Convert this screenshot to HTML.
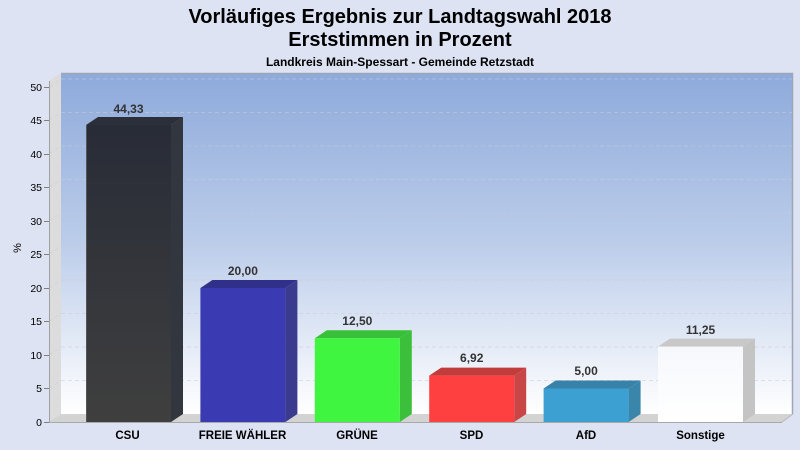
<!DOCTYPE html>
<html><head><meta charset="utf-8"><style>
html,body{margin:0;padding:0;background:#dde3f3;}
svg{display:block;font-family:"Liberation Sans",Arial,sans-serif;}
</style></head><body>
<svg width="800" height="450" viewBox="0 0 800 450" xmlns="http://www.w3.org/2000/svg">
<defs>
<linearGradient id="bg" x1="0" y1="0" x2="0" y2="1">
<stop offset="0" stop-color="#8eaadb"/>
<stop offset="0.5" stop-color="#bccdea"/>
<stop offset="1" stop-color="#ffffff"/>
</linearGradient>
<linearGradient id="csu" x1="0" y1="0" x2="0" y2="1">
<stop offset="0" stop-color="#282c37"/>
<stop offset="1" stop-color="#3f3f3f"/>
</linearGradient>
<linearGradient id="son" x1="0" y1="0" x2="0" y2="1">
<stop offset="0" stop-color="#f6f8fc"/>
<stop offset="1" stop-color="#ffffff"/>
</linearGradient>
</defs>
<rect width="800" height="450" fill="#dde3f3"/>
<text x="400" y="23" text-anchor="middle" font-size="20" font-weight="bold" fill="#000">Vorläufiges Ergebnis zur Landtagswahl 2018</text>
<text x="400" y="46" text-anchor="middle" font-size="20" font-weight="bold" fill="#000">Erststimmen in Prozent</text>
<text x="400" y="66" text-anchor="middle" font-size="12" font-weight="bold" fill="#000">Landkreis Main-Spessart - Gemeinde Retzstadt</text>

<!-- back wall -->
<rect x="61" y="73" width="731" height="341" fill="url(#bg)"/>
<polyline points="61,73.5 792.5,73.5 792.5,414" fill="none" stroke="#9ea6b6" stroke-width="1.5"/>
<!-- left wall -->
<polygon points="49,81 61,73 61,414 49,422" fill="#dcdcdc"/>
<!-- floor -->
<polygon points="49,422 61,414 793,414 782,422" fill="#d3d3d3"/>
<line x1="49" y1="422.5" x2="782" y2="422.5" stroke="#a8a8a8" stroke-width="1"/>
<line x1="782" y1="422" x2="793" y2="414" stroke="#b8b8b8" stroke-width="1"/>

<!-- grid lines -->
<g stroke="rgba(200,204,214,0.55)" stroke-width="1" stroke-dasharray="4,3" fill="none">
<line x1="61" y1="380.5" x2="792" y2="380.5"/>
<line x1="61" y1="347" x2="792" y2="347"/>
<line x1="61" y1="313.5" x2="792" y2="313.5"/>
<line x1="61" y1="280" x2="792" y2="280"/>
<line x1="61" y1="246.5" x2="792" y2="246.5"/>
<line x1="61" y1="213" x2="792" y2="213"/>
<line x1="61" y1="179.5" x2="792" y2="179.5"/>
<line x1="61" y1="146" x2="792" y2="146"/>
<line x1="61" y1="112.5" x2="792" y2="112.5"/>
<line x1="61" y1="79" x2="792" y2="79"/>
<line x1="49" y1="388.5" x2="61" y2="380.5"/>
<line x1="49" y1="355" x2="61" y2="347"/>
<line x1="49" y1="321.5" x2="61" y2="313.5"/>
<line x1="49" y1="288" x2="61" y2="280"/>
<line x1="49" y1="254.5" x2="61" y2="246.5"/>
<line x1="49" y1="221" x2="61" y2="213"/>
<line x1="49" y1="187.5" x2="61" y2="179.5"/>
<line x1="49" y1="154" x2="61" y2="146"/>
<line x1="49" y1="120.5" x2="61" y2="112.5"/>
<line x1="49" y1="87" x2="61" y2="79"/>
</g>

<!-- y axis -->
<line x1="49.5" y1="81" x2="49.5" y2="422" stroke="#a0a0a0" stroke-width="1"/>
<g stroke="#808080" stroke-width="1">
<line x1="44" y1="422.5" x2="49" y2="422.5"/>
<line x1="44" y1="388.5" x2="49" y2="388.5"/>
<line x1="44" y1="355.5" x2="49" y2="355.5"/>
<line x1="44" y1="321.5" x2="49" y2="321.5"/>
<line x1="44" y1="288.5" x2="49" y2="288.5"/>
<line x1="44" y1="254.5" x2="49" y2="254.5"/>
<line x1="44" y1="221.5" x2="49" y2="221.5"/>
<line x1="44" y1="187.5" x2="49" y2="187.5"/>
<line x1="44" y1="154.5" x2="49" y2="154.5"/>
<line x1="44" y1="120.5" x2="49" y2="120.5"/>
<line x1="44" y1="87.5" x2="49" y2="87.5"/>
</g>
<g font-size="10.5" fill="#000" text-anchor="end">
<text x="42" y="426">0</text>
<text x="42" y="392">5</text>
<text x="42" y="359">10</text>
<text x="42" y="325">15</text>
<text x="42" y="292">20</text>
<text x="42" y="258">25</text>
<text x="42" y="225">30</text>
<text x="42" y="191">35</text>
<text x="42" y="158">40</text>
<text x="42" y="124">45</text>
<text x="42" y="91">50</text>
</g>
<text x="0" y="0" font-size="11" fill="#000" text-anchor="middle" transform="translate(21,248) rotate(-90)">%</text>

<!-- bars -->
<polygon points="86,125 98,117 183,117 171,125" fill="#2b2f39"/>
<polygon points="171,125 183,117 183,414 171,422" fill="#32363e"/>
<rect x="86" y="125" width="85" height="297" fill="url(#csu)"/>
<line x1="86.5" y1="125" x2="86.5" y2="422" stroke="#555" stroke-width="1"/>

<polygon points="200.4,288 212.4,280 297.4,280 285.4,288" fill="#30308a"/>
<polygon points="285.4,288 297.4,280 297.4,414 285.4,422" fill="#3a3a8e"/>
<rect x="200.4" y="288" width="85" height="134" fill="#3a3ab2"/>

<polygon points="314.8,338.25 326.8,330.25 411.8,330.25 399.8,338.25" fill="#38c038"/>
<polygon points="399.8,338.25 411.8,330.25 411.8,414 399.8,422" fill="#3cc03c"/>
<rect x="314.8" y="338.25" width="85" height="83.75" fill="#40f540"/>

<polygon points="429.2,375.6 441.2,367.6 526.2,367.6 514.2,375.6" fill="#c23c3c"/>
<polygon points="514.2,375.6 526.2,367.6 526.2,414 514.2,422" fill="#c84646"/>
<rect x="429.2" y="375.6" width="85" height="46.4" fill="#ff4040"/>

<polygon points="543.6,388.5 555.6,380.5 640.6,380.5 628.6,388.5" fill="#3882aa"/>
<polygon points="628.6,388.5 640.6,380.5 640.6,414 628.6,422" fill="#3a86aa"/>
<rect x="543.6" y="388.5" width="85" height="33.5" fill="#3ca0d2"/>

<polygon points="658,346.6 670,338.6 755,338.6 743,346.6" fill="#c8c8c8"/>
<polygon points="743,346.6 755,338.6 755,414 743,422" fill="#c4c4c4"/>
<rect x="658" y="346.6" width="85" height="75.4" fill="url(#son)"/>

<!-- value labels -->
<g font-size="12" font-weight="bold" fill="#333" text-anchor="middle">
<text x="128.5" y="113">44,33</text>
<text x="242.9" y="275">20,00</text>
<text x="357.3" y="325">12,50</text>
<text x="471.7" y="362">6,92</text>
<text x="586.1" y="375">5,00</text>
<text x="700.5" y="334">11,25</text>
</g>

<!-- x labels -->
<g font-size="11.5" font-weight="bold" fill="#000" text-anchor="middle">
<text x="127.5" y="439">CSU</text>
<text x="242.5" y="439">FREIE WÄHLER</text>
<text x="357" y="439">GRÜNE</text>
<text x="471.5" y="439">SPD</text>
<text x="586" y="439">AfD</text>
<text x="700.5" y="439">Sonstige</text>
</g>
</svg>
</body></html>
